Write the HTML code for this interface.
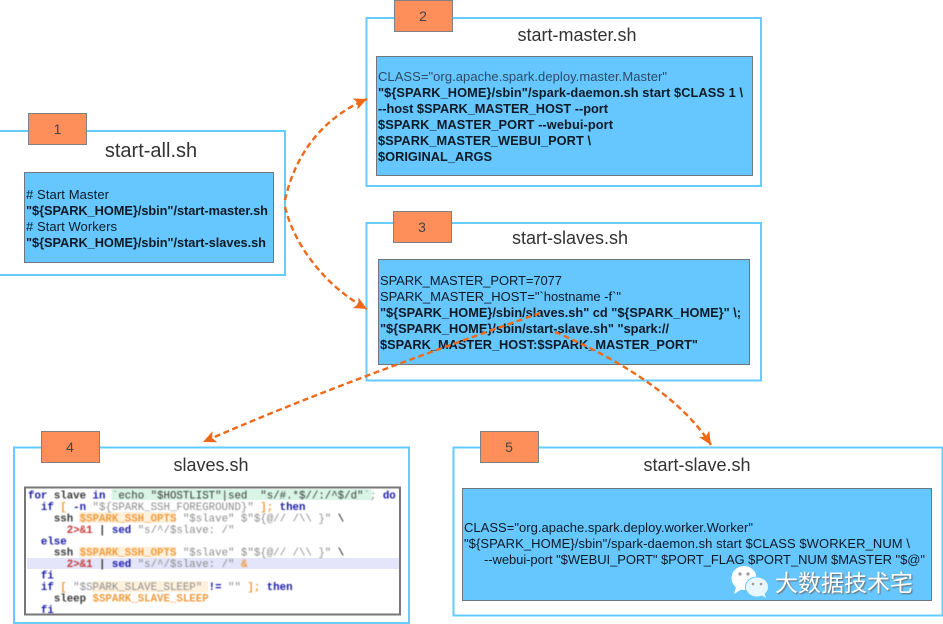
<!DOCTYPE html>
<html>
<head>
<meta charset="utf-8">
<style>
html,body{margin:0;padding:0;background:#fff;width:943px;height:624px;overflow:hidden}
svg{display:block;position:absolute;left:0;top:0}
.box{fill:#fff;stroke:#66ccff;stroke-width:2}
.tag{fill:#ff8f5a;stroke:#808080;stroke-width:1}
.inner{fill:#66c7ff;stroke:#6f7680;stroke-width:1}
.title{font:18px "Liberation Sans",sans-serif;fill:#333;text-anchor:middle}
.num{font:14px "Liberation Sans",sans-serif;fill:#444;text-anchor:middle}
.t{font:13px "Liberation Sans",sans-serif;fill:#0d1a26}
.b{font:bold 12.8px "Liberation Sans",sans-serif}
.code{font:bold 10.76px "Liberation Mono",monospace;white-space:pre;fill:#444}
.k{fill:#1a1aa8}.g{fill:#8d8d8d;font-weight:normal}.o{fill:#f09a3c}.r{fill:#c43a3a}.d{fill:#3a3a3a}
.conn{fill:none;stroke:#ee6a1a;stroke-width:2.4;stroke-dasharray:6 3.5}
</style>
</head>
<body>
<svg width="943" height="624" viewBox="0 0 943 624" xmlns="http://www.w3.org/2000/svg">
<defs>
<marker id="ah" markerUnits="userSpaceOnUse" markerWidth="16" markerHeight="16" refX="13" refY="8" orient="auto">
<path d="M0 2 L13 8 L0 14 L3 8 Z" fill="#ee6a1a"/>
</marker>
</defs>

<!-- Box 1 -->
<rect class="box" x="-4" y="131" width="289" height="144"/>
<rect class="tag" x="28.5" y="113.5" width="58" height="31"/>
<text class="num" x="57.5" y="134">1</text>
<text class="title" x="151" y="157" style="font-size:20px">start-all.sh</text>
<rect class="inner" x="24.5" y="172.5" width="249" height="90"/>
<text class="t" x="26" y="199" textLength="83"># Start Master</text>
<text class="t b" x="26" y="215" textLength="242">"${SPARK_HOME}/sbin"/start-master.sh</text>
<text class="t" x="26" y="231" textLength="91"># Start Workers</text>
<text class="t b" x="26" y="247" textLength="240">"${SPARK_HOME}/sbin"/start-slaves.sh</text>

<!-- Box 2 -->
<rect class="box" x="366.5" y="18" width="394.5" height="168"/>
<rect class="tag" x="394.5" y="0.5" width="58" height="31"/>
<text class="num" x="423" y="21">2</text>
<text class="title" x="577" y="41">start-master.sh</text>
<rect class="inner" x="376.5" y="56.5" width="376" height="119"/>
<text class="t" x="378" y="81" textLength="289" style="fill:#2c4a66">CLASS="org.apache.spark.deploy.master.Master"</text>
<text class="t b" x="378" y="97" textLength="365">"${SPARK_HOME}/sbin"/spark-daemon.sh start $CLASS 1 \</text>
<text class="t b" x="378" y="113" textLength="230">--host $SPARK_MASTER_HOST --port</text>
<text class="t b" x="378" y="129" textLength="235">$SPARK_MASTER_PORT --webui-port</text>
<text class="t b" x="378" y="145" textLength="213">$SPARK_MASTER_WEBUI_PORT \</text>
<text class="t b" x="378" y="161" textLength="114">$ORIGINAL_ARGS</text>

<!-- Box 3 -->
<rect class="box" x="366.5" y="223" width="394.5" height="157.5"/>
<rect class="tag" x="393.5" y="211.5" width="58" height="31"/>
<text class="num" x="422" y="232">3</text>
<text class="title" x="570" y="244">start-slaves.sh</text>
<rect class="inner" x="378.5" y="259.5" width="371" height="105"/>
<text class="t" x="380" y="285" textLength="182">SPARK_MASTER_PORT=7077</text>
<text class="t" x="380" y="301" textLength="241">SPARK_MASTER_HOST="`hostname -f`"</text>
<text class="t b" x="380" y="317" textLength="361">"${SPARK_HOME}/sbin/slaves.sh" cd "${SPARK_HOME}" \;</text>
<text class="t b" x="380" y="333" textLength="289">"${SPARK_HOME}/sbin/start-slave.sh" "spark://</text>
<text class="t b" x="380" y="349" textLength="318">$SPARK_MASTER_HOST:$SPARK_MASTER_PORT"</text>

<!-- Box 4 -->
<rect class="box" x="14" y="447.5" width="395" height="175.5"/>
<rect class="tag" x="41.5" y="431.5" width="58" height="31"/>
<text class="num" x="70" y="452">4</text>
<text class="title" x="211" y="471">slaves.sh</text>
<rect x="25" y="487.5" width="375" height="127" fill="#fff" stroke="#777" stroke-width="2"/>
<rect x="111.7" y="489" width="260" height="11" fill="#d8f5e6"/>
<rect x="27" y="558" width="372" height="11" fill="#e4e4fa"/>
<rect x="79" y="512" width="97" height="11" fill="#fff1dc"/>
<rect x="79" y="546.5" width="97" height="11" fill="#fff1dc"/>
<rect x="92" y="581" width="116" height="11" fill="#fff1dc"/>
<g class="code" style="filter:blur(0.4px)">
<text x="28" y="498.5" xml:space="preserve"><tspan class="k">for</tspan> <tspan class="d">slave</tspan> <tspan class="k">in</tspan> <tspan class="g">`</tspan><tspan class="d" style="font-weight:normal">echo "$HOSTLIST"|sed  "s/#.*$//:/^$/d"</tspan><tspan class="g">`;</tspan> <tspan class="k">do</tspan></text>
<text x="28" y="510" xml:space="preserve">  <tspan class="k">if</tspan> <tspan class="o">[</tspan> <tspan class="k">-n</tspan> <tspan class="g">"${SPARK_SSH_FOREGROUND}"</tspan> <tspan class="o">];</tspan> <tspan class="k">then</tspan></text>
<text x="28" y="521.4" xml:space="preserve">    <tspan class="d">ssh</tspan> <tspan class="o">$SPARK_SSH_OPTS</tspan> <tspan class="g">"$slave" $"${@// /\\ }"</tspan> <tspan class="d">\</tspan></text>
<text x="28" y="532.9" xml:space="preserve">      <tspan class="r">2&gt;&amp;1</tspan> <tspan class="d">|</tspan> <tspan class="k">sed</tspan> <tspan class="g">"s/^/$slave: /"</tspan></text>
<text x="28" y="544.3" xml:space="preserve">  <tspan class="k">else</tspan></text>
<text x="28" y="555.7" xml:space="preserve">    <tspan class="d">ssh</tspan> <tspan class="o">$SPARK_SSH_OPTS</tspan> <tspan class="g">"$slave" $"${@// /\\ }"</tspan> <tspan class="d">\</tspan></text>
<text x="28" y="567.2" xml:space="preserve">      <tspan class="r">2&gt;&amp;1</tspan> <tspan class="d">|</tspan> <tspan class="k">sed</tspan> <tspan class="g">"s/^/$slave: /"</tspan> <tspan class="o">&amp;</tspan></text>
<text x="28" y="578.6" xml:space="preserve">  <tspan class="k">fi</tspan></text>
<text x="28" y="590" xml:space="preserve">  <tspan class="k">if</tspan> <tspan class="o">[</tspan> <tspan class="g">"$SPARK_SLAVE_SLEEP"</tspan> <tspan class="k">!=</tspan> <tspan class="g">""</tspan> <tspan class="o">];</tspan> <tspan class="k">then</tspan></text>
<text x="28" y="601.5" xml:space="preserve">    <tspan class="d">sleep</tspan> <tspan class="o">$SPARK_SLAVE_SLEEP</tspan></text>
<text x="28" y="612.9" xml:space="preserve">  <tspan class="k">fi</tspan></text>
</g>

<!-- Box 5 -->
<rect class="box" x="453.5" y="447.5" width="489" height="168"/>
<rect class="tag" x="480.5" y="431.5" width="58" height="31"/>
<text class="num" x="509" y="452">5</text>
<text class="title" x="697" y="471">start-slave.sh</text>
<rect class="inner" x="462.5" y="488.5" width="469" height="112"/>
<text class="t" x="464" y="532" textLength="289">CLASS="org.apache.spark.deploy.worker.Worker"</text>
<text class="t" x="464" y="548" textLength="446">"${SPARK_HOME}/sbin"/spark-daemon.sh start $CLASS $WORKER_NUM \</text>
<text class="t" x="484" y="564" textLength="441">--webui-port "$WEBUI_PORT" $PORT_FLAG $PORT_NUM $MASTER "$@"</text>

<!-- Connectors -->
<path class="conn" marker-end="url(#ah)" d="M285 200 C295 155 322 118 367 99"/>
<path class="conn" marker-end="url(#ah)" d="M285 207 C293 240 320 283 367 309"/>
<path class="conn" marker-end="url(#ah)" d="M540 313 C430 352 310 395 203 442"/>
<path class="conn" marker-end="url(#ah)" d="M555 332 C610 355 680 395 711 445"/>

<!-- Watermark -->
<ellipse cx="744" cy="578" rx="12.5" ry="12" fill="#fff"/>
<path d="M736 587 L734 594 L742 589 Z" fill="#fff"/>
<circle cx="740" cy="574" r="1.6" fill="#9a9a9a"/>
<circle cx="748" cy="574" r="1.6" fill="#9a9a9a"/>
<ellipse cx="757" cy="587" rx="11.5" ry="10" fill="#e9f6fc" stroke="#66c7ff" stroke-width="1"/>
<path d="M761 595 L766 598 L764 592 Z" fill="#e9f6fc"/>
<circle cx="753" cy="584" r="1.3" fill="#9a9a9a"/>
<circle cx="761" cy="584" r="1.3" fill="#9a9a9a"/>
<text x="775" y="591" style="font:23px 'Liberation Sans','Noto Sans CJK SC',sans-serif;fill:#fff;filter:drop-shadow(1px 1px 0.8px #666)">大数据技术宅</text>
</svg>
</body>
</html>
